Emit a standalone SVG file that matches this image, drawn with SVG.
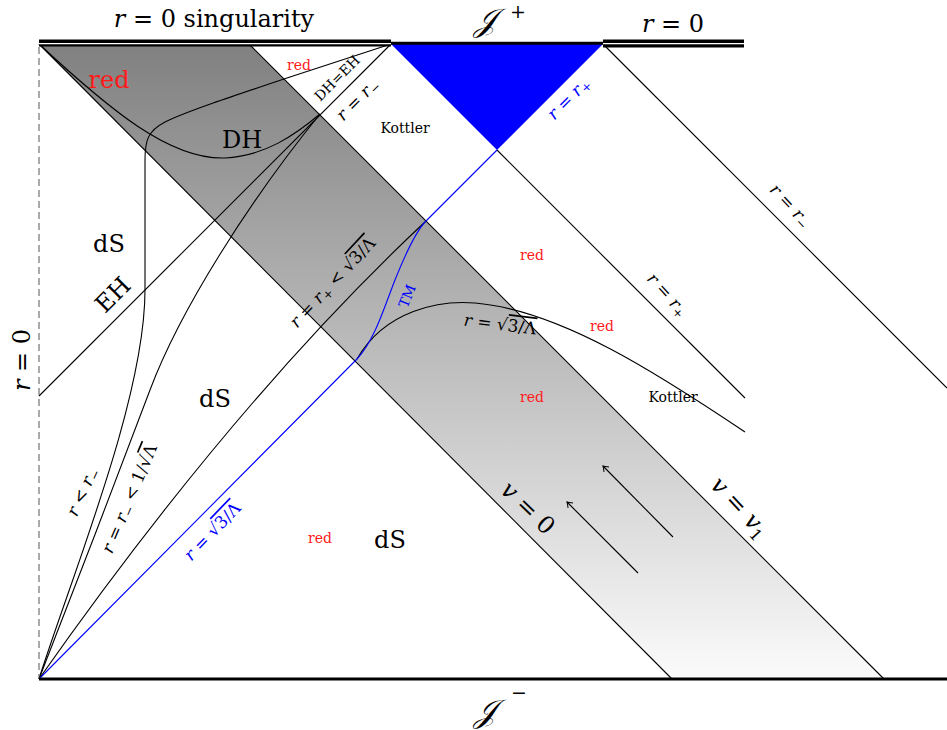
<svg xmlns="http://www.w3.org/2000/svg" width="947" height="730" viewBox="0 0 947 730">
<style>
text{font-family:"DejaVu Serif","Liberation Serif",serif;fill:#000}
.lg{font-size:24px}
.sm{font-size:14px}
.mt{font-size:17px}
.red{fill:#ff1a1a}
.bl{fill:#0000ff}
.it{font-style:italic}
.sb{font-size:12px}
.ln{fill:none;stroke:#000;stroke-width:1.1}
.bln{fill:none;stroke:#0000ff;stroke-width:1.1}
.ov{text-decoration:overline}
.scr{font-size:32px;font-style:italic}
.sup{font-size:19px}
</style>
<defs>
<linearGradient id="g" gradientUnits="userSpaceOnUse" x1="0" y1="44" x2="0" y2="679">
<stop offset="0" stop-color="#808080"/>
<stop offset="1" stop-color="#fbfbfb"/>
</linearGradient>
<marker id="ah" markerWidth="10" markerHeight="10" refX="0" refY="0" viewBox="-6 -5 8 10" orient="auto" markerUnits="userSpaceOnUse">
<path d="M-5,-3.5 Q-1.5,-0.8 0,0 Q-1.5,0.8 -5,3.5" fill="none" stroke="#000" stroke-width="1"/>
</marker>
</defs>

<g id="regions">
<polygon id="band" points="39,44 249,44 884,679 672,679" fill="url(#g)"/>
<polygon id="blue-triangle" points="391,44 603,44 497,150" fill="#0000ff"/>
</g>

<g id="connectors">
<line class="ln" x1="39" y1="44" x2="672" y2="679"/>
<line class="ln" x1="249" y1="44" x2="884" y2="679"/>
<line class="ln" x1="391" y1="44" x2="39" y2="396"/>
<line class="ln" x1="497" y1="150" x2="745" y2="398"/>
<line class="ln" x1="603" y1="44" x2="947" y2="388"/>
<path class="ln" d="M39,44 C110,110 170,160 225,158 C265,156 295,135 320,114"/>
<path class="ln" d="M391,44 L290,77 C230,97 185,112 165,122 C148,131 145,140 145,160 L145,290 C145,400 70,580 39,679"/>
<path class="ln" d="M320,114 C250,200 180,310 150,390 C120,470 70,600 39,679"/>
<path class="ln" d="M39,679 Q235,400 426,221"/>
<path class="ln" d="M357,359 C385,310 440,300 475,303 C560,310 660,375 745,432"/>
<path class="bln" d="M39,679 L357,359 C375,340 385,305 395,280 C405,255 415,232 426,221 L497,150"/>
<line x1="39" y1="47" x2="39" y2="679" stroke="#555" stroke-width="1" stroke-dasharray="7,4"/>
<line class="ln" x1="638" y1="573" x2="567" y2="502" marker-end="url(#ah)"/>
<line class="ln" x1="673" y1="537" x2="603" y2="466" marker-end="url(#ah)"/>
</g>

<g id="boundaries">
<rect x="39" y="39.5" width="352" height="7" fill="#000"/>
<line x1="39" y1="43.6" x2="391" y2="43.6" stroke="#fff" stroke-width="1.1"/>
<line x1="391" y1="43.3" x2="603" y2="43.3" stroke="#000" stroke-width="3"/>
<rect x="603" y="39.5" width="141" height="8" fill="#000"/>
<line x1="603" y1="43.6" x2="744" y2="43.6" stroke="#fff" stroke-width="1.3"/>
<line x1="39" y1="679" x2="947" y2="679" stroke="#000" stroke-width="3"/>
</g>

<g id="labels">
<text class="lg" x="214" y="27" text-anchor="middle"><tspan class="it">r</tspan> = 0 singularity</text>
<g id="scri-plus">
<text class="scr" x="474" y="31">𝒥</text>
<text class="sup" x="510" y="18">+</text>
</g>
<text class="lg" x="673" y="32" text-anchor="middle"><tspan class="it">r</tspan> = 0</text>
<text class="lg" transform="translate(22,360) rotate(-90)" x="0" y="8" text-anchor="middle"><tspan class="it">r</tspan> = 0</text>
<g id="scri-minus">
<text class="scr" x="474" y="722">𝒥</text>
<text class="sup" x="511" y="699">−</text>
</g>

<text class="lg red" x="109" y="88" text-anchor="middle">red</text>
<text class="lg" x="242" y="148" text-anchor="middle">DH</text>
<text class="sm red" x="299" y="70" text-anchor="middle">red</text>
<text class="sm" x="405" y="133" text-anchor="middle">Kottler</text>
<text class="lg" x="109" y="252" text-anchor="middle">dS</text>
<text class="lg" x="215" y="407" text-anchor="middle">dS</text>
<text class="lg" x="390" y="548" text-anchor="middle">dS</text>
<text class="sm red" x="532" y="260" text-anchor="middle">red</text>
<text class="sm red" x="602" y="331" text-anchor="middle">red</text>
<text class="sm red" x="532" y="402" text-anchor="middle">red</text>
<text class="sm" x="673" y="402" text-anchor="middle">Kottler</text>
<text class="sm red" x="320" y="543" text-anchor="middle">red</text>

<text class="sm" font-size="15" transform="translate(337,78) rotate(-45)" x="0" y="5" text-anchor="middle">DH=EH</text>
<text class="mt" transform="translate(358,100) rotate(-45)" x="0" y="5" text-anchor="middle"><tspan class="it">r</tspan> = <tspan class="it">r</tspan><tspan class="sb" dy="3">−</tspan></text>
<text class="mt bl" transform="translate(569,99) rotate(-45)" x="0" y="5" text-anchor="middle"><tspan class="it">r</tspan> = <tspan class="it">r</tspan><tspan class="sb" dy="3">+</tspan></text>
<text class="mt" transform="translate(790,206) rotate(47)" x="0" y="5" text-anchor="middle"><tspan class="it">r</tspan> = <tspan class="it">r</tspan><tspan class="sb" dy="3">−</tspan></text>
<text class="mt" transform="translate(667,295) rotate(48)" x="0" y="5" text-anchor="middle"><tspan class="it">r</tspan> = <tspan class="it">r</tspan><tspan class="sb" dy="3">+</tspan></text>
<text class="lg" transform="translate(113,295) rotate(-45)" x="0" y="8" text-anchor="middle">EH</text>
<text class="mt" transform="translate(333,283) rotate(-47)" x="0" y="5" text-anchor="middle"><tspan class="it">r</tspan> = <tspan class="it">r</tspan><tspan class="sb" dy="3">+</tspan><tspan dy="-3"> &lt; √</tspan><tspan class="ov">3/Λ</tspan></text>
<text class="sm bl" font-size="16" transform="translate(407,296) rotate(-68)" x="0" y="5" text-anchor="middle">TM</text>
<text class="mt" transform="translate(500,325) rotate(7)" x="0" y="5" text-anchor="middle"><tspan class="it">r</tspan> = √<tspan class="ov">3/Λ</tspan></text>
<text class="mt" transform="translate(83,492) rotate(-65)" x="0" y="5" text-anchor="middle"><tspan class="it">r</tspan> &lt; <tspan class="it">r</tspan><tspan class="sb" dy="3">−</tspan></text>
<text class="mt" transform="translate(130,499) rotate(-67)" x="0" y="5" text-anchor="middle"><tspan class="it">r</tspan> = <tspan class="it">r</tspan><tspan class="sb" dy="3">−</tspan><tspan dy="-3"> &lt; 1/√</tspan><tspan class="ov">Λ</tspan></text>
<text class="mt bl" font-size="18" transform="translate(213,532) rotate(-46)" x="0" y="5" text-anchor="middle"><tspan class="it">r</tspan> = √<tspan class="ov">3/Λ</tspan></text>
<text class="lg" transform="translate(528,508) rotate(44)" x="0" y="8" text-anchor="middle"><tspan class="it">v</tspan> = 0</text>
<text class="lg" transform="translate(740,507) rotate(47)" x="0" y="8" text-anchor="middle"><tspan class="it">v</tspan> = <tspan class="it">v</tspan><tspan font-size="16" dy="5">1</tspan></text>
</g>
</svg>
